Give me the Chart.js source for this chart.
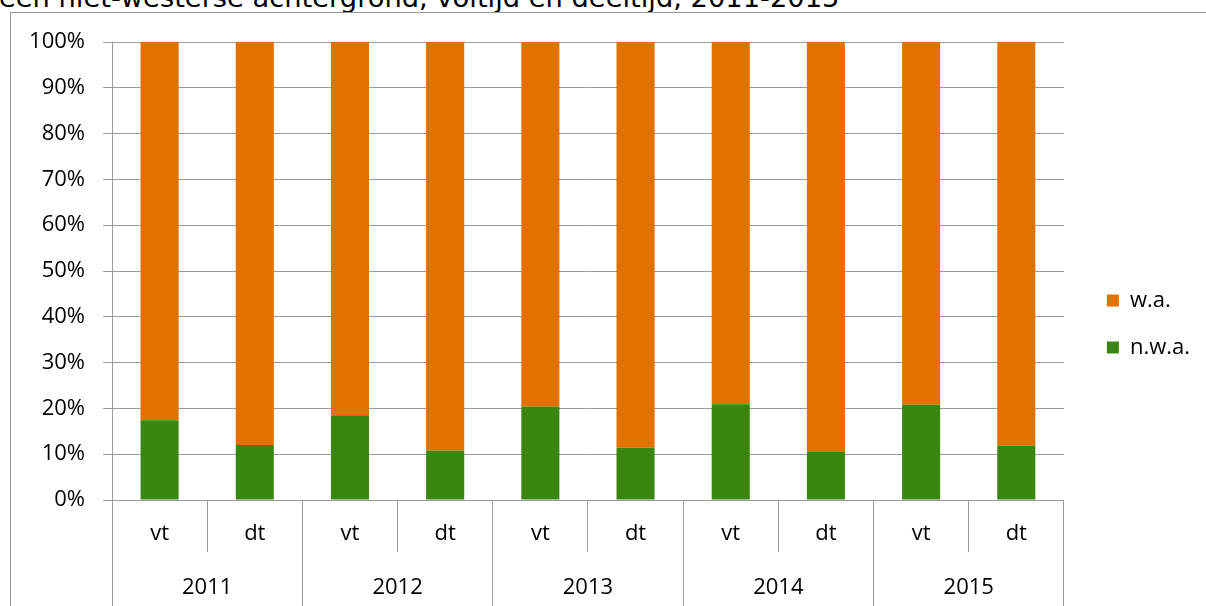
<!DOCTYPE html>
<html>
<head>
<meta charset="utf-8">
<script src="https://cdn.jsdelivr.net/npm/chart.js@4.4.1/dist/chart.umd.min.js"></script>
<style>
    html, body { margin: 0; padding: 0; background: #fff; overflow: hidden; }
    #titel {
        position: absolute; left: -1px; top: -18px;
        font-family: "DejaVu Sans", Verdana, sans-serif; font-size: 27.3px;
        color: #000; white-space: nowrap;
    }
    #kader {
        position: absolute; left: 10px; top: 12px; width: 1300px; height: 700px;
        border-left: 1px solid #999; border-top: 1px solid #999;
    }
    #wrap { position: absolute; left: 0; top: 0; width: 1206px; height: 606px; }
</style>
</head>
<body>
<div id="titel">een niet-westerse achtergrond, voltijd en deeltijd, 2011-2015</div>
<div id="kader"></div>
<div id="wrap"><canvas id="grafiek"></canvas></div>
<script>
// categorieen: voltijd / deeltijd per jaar
const soorten = ['vt', 'dt', 'vt', 'dt', 'vt', 'dt', 'vt', 'dt', 'vt', 'dt'];
const jaren = ['2011', '2012', '2013', '2014', '2015'];

// aandelen in procenten
const nwa = [17.4, 12.0, 18.5, 10.8, 20.4, 11.4, 20.9, 10.5, 20.8, 11.9];
const wa = [82.6, 88.0, 81.5, 89.2, 79.6, 88.6, 79.1, 89.5, 79.2, 88.1];

const yTicks = [0, 10, 20, 30, 40, 50, 60, 70, 80, 90, 100];

const lijnKleur = '#9c9c9c';
const letter = { family: '"Open Sans", "Liberation Sans", sans-serif', size: 22 };

// legenda iets naar rechts schuiven, zoals in het origineel
const legendaSchuif = {
    id: 'legendaSchuif',
    afterLayout: function (chart) {
        chart.legend.left += 18;
        chart.legend.right += 18;
    }
};

var ctx = document.getElementById('grafiek').getContext('2d');
var grafiek = new Chart(ctx, {
    type: 'bar',
    data: {
        labels: soorten,
        datasets: [{
            label: 'n.w.a.',
            data: nwa,
            backgroundColor: '#3a8610',
            borderWidth: 0,
            barPercentage: 0.4,
            categoryPercentage: 1
        }, {
            label: 'w.a.',
            data: wa,
            backgroundColor: '#e37100',
            borderWidth: 0,
            barPercentage: 0.4,
            categoryPercentage: 1
        }]
    },
    options: {
        responsive: true,
        maintainAspectRatio: false,
        animation: false,
        layout: { padding: { top: 42, right: 24, left: 0, bottom: 0 } },
        scales: {
            x: {
                stacked: true,
                position: 'bottom',
                offset: true,
                grid: {
                    offset: true,
                    drawOnChartArea: false,
                    tickLength: 52,
                    color: lijnKleur
                },
                border: { display: true, color: lijnKleur },
                ticks: { color: '#000', font: letter, padding: -31, maxRotation: 0 },
                afterFit: function (s) { s.height = 52; }
            },
            jaar: {
                type: 'category',
                labels: jaren,
                position: 'bottom',
                offset: true,
                grid: {
                    offset: true,
                    drawOnChartArea: false,
                    tickLength: 60,
                    color: lijnKleur
                },
                border: { display: false },
                ticks: { color: '#000', font: letter, padding: -37, maxRotation: 0 },
                afterFit: function (s) { s.height = 54; }
            },
            y: {
                stacked: true,
                min: 0,
                max: 100,
                afterBuildTicks: function (s) { s.ticks = yTicks.map(v => ({ value: v })); },
                grid: { color: lijnKleur, tickLength: 9 },
                border: { display: true, color: lijnKleur },
                ticks: {
                    color: '#000', font: letter, padding: 18,
                    callback: function (v) { return v + '%'; }
                },
                afterFit: function (s) { s.width = 112; }
            }
        },
        plugins: {
            title: { display: false },
            tooltip: { enabled: false },
            legend: {
                position: 'right',
                reverse: true,
                labels: {
                    color: '#000',
                    font: letter,
                    boxWidth: 12,
                    boxHeight: 12,
                    padding: 25
                }
            }
        }
    },
    plugins: [legendaSchuif]
});
</script>
</body>
</html>
